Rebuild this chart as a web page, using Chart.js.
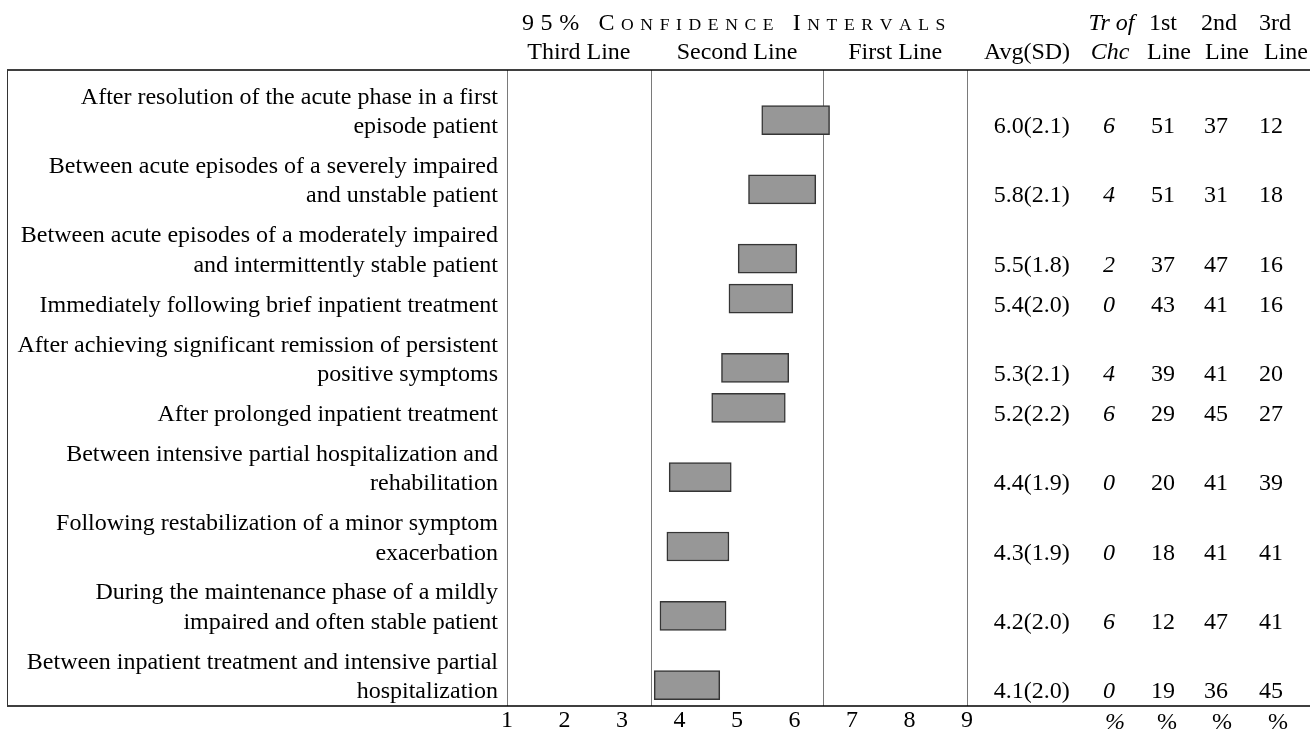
<!DOCTYPE html>
<html>
<head>
<meta charset="utf-8">
<script src="https://cdn.jsdelivr.net/npm/chart.js@4/dist/chart.umd.min.js"></script>
<style>
  html, body { margin: 0; padding: 0; background: #fff; }
  #wrap { width: 1310px; height: 730px; position: relative; }
</style>
</head>
<body>
<div id="wrap"><canvas id="chart" width="1310" height="730"></canvas></div>
<script>
// Clinical situations (each entry is the wrapped label, one string per line)
const situations = [
  ['After resolution of the acute phase in a first', 'episode patient'],
  ['Between acute episodes of a severely impaired', 'and unstable patient'],
  ['Between acute episodes of a moderately impaired', 'and intermittently stable patient'],
  ['Immediately following brief inpatient treatment'],
  ['After achieving significant remission of persistent', 'positive symptoms'],
  ['After prolonged inpatient treatment'],
  ['Between intensive partial hospitalization and', 'rehabilitation'],
  ['Following restabilization of a minor symptom', 'exacerbation'],
  ['During the maintenance phase of a mildly', 'impaired and often stable patient'],
  ['Between inpatient treatment and intensive partial', 'hospitalization']
];

// 95% confidence interval bounds on the 1-9 rating scale
const ciLow  = [5.43, 5.20, 5.02, 4.86, 4.73, 4.56, 3.82, 3.78, 3.66, 3.56];
const ciHigh = [6.61, 6.37, 6.04, 5.97, 5.90, 5.84, 4.90, 4.86, 4.81, 4.70];

// Table columns
const avg        = [6.0, 5.8, 5.5, 5.4, 5.3, 5.2, 4.4, 4.3, 4.2, 4.1];
const sd         = [2.1, 2.1, 1.8, 2.0, 2.1, 2.2, 1.9, 1.9, 2.0, 2.0];
const trOfChc    = [6, 4, 2, 0, 4, 6, 0, 0, 6, 0];
const firstLine  = [51, 51, 37, 43, 39, 29, 20, 18, 12, 19];
const secondLine = [37, 31, 47, 41, 41, 45, 41, 41, 47, 36];
const thirdLine  = [12, 18, 16, 16, 20, 27, 39, 41, 41, 45];

// Rating scale and the zones that split it
const scaleMin = 1, scaleMax = 9;
const zoneBreaks = [3.5, 6.5];
const zoneNames = ['Third Line', 'Second Line', 'First Line'];
const titleText = '95% Confidence Intervals';

// ---- layout ----
const FONT = "'Liberation Serif', 'Times New Roman', serif";
const LINE_H = 29.35;   // text line pitch inside a row
const ROW_PAD = 10.6;   // extra space per row
const FRAME_H = 636;    // height of the framed table body in y-units

let acc = 0;
const rowBottom = situations.map(lines => (acc += ROW_PAD + lines.length * LINE_H));
const barPos = rowBottom.map(b => b - 19.2);
const baselinePos = rowBottom.map(b => b - 6.2);

const tablePlugin = {
  id: 'tablePlugin',
  beforeDatasetsDraw(chart) {
    const { ctx, chartArea: ca, scales: { x } } = chart;
    ctx.save();
    // scale edges and zone dividers
    ctx.strokeStyle = '#7a7a7a';
    ctx.lineWidth = 1;
    [scaleMin, ...zoneBreaks, scaleMax].forEach(v => {
      const px = Math.round(x.getPixelForValue(v)) + 0.5;
      ctx.beginPath(); ctx.moveTo(px, ca.top); ctx.lineTo(px, ca.bottom); ctx.stroke();
    });
    ctx.restore();
  },
  afterDraw(chart) {
    const { ctx, chartArea: ca, scales: { x, y } } = chart;
    ctx.save();
    ctx.fillStyle = '#000';
    ctx.textBaseline = 'alphabetic';

    // frame
    ctx.strokeStyle = '#000';
    ctx.lineWidth = 1.5;
    ctx.beginPath();
    ctx.moveTo(7, ca.top); ctx.lineTo(chart.width, ca.top);
    ctx.moveTo(7, ca.bottom); ctx.lineTo(chart.width, ca.bottom);
    ctx.stroke();
    ctx.lineWidth = 1;
    ctx.strokeStyle = '#333';
    ctx.beginPath(); ctx.moveTo(7.5, ca.top); ctx.lineTo(7.5, ca.bottom); ctx.stroke();

    // title in spaced small caps
    const big = 24, small = 17.6, spacing = 6.6;
    const glyphs = [...titleText].map(c => {
      const isSmall = c !== c.toUpperCase();
      const size = isSmall ? small : big;
      ctx.font = size + 'px ' + FONT;
      const ch = c.toUpperCase();
      return { ch, size, w: ctx.measureText(ch).width };
    });
    const total = glyphs.reduce((s, g) => s + g.w + spacing, 0);
    let tx = (ca.left + ca.right) / 2 - total / 2;
    glyphs.forEach(g => {
      ctx.font = g.size + 'px ' + FONT;
      ctx.textAlign = 'left';
      ctx.fillText(g.ch, tx, 30);
      tx += g.w + spacing;
    });

    // zone captions
    ctx.font = '24px ' + FONT;
    ctx.textAlign = 'center';
    const edges = [scaleMin, ...zoneBreaks, scaleMax];
    zoneNames.forEach((name, i) => {
      const cx = (x.getPixelForValue(edges[i]) + x.getPixelForValue(edges[i + 1])) / 2;
      ctx.fillText(name, cx, 59.3);
    });

    // column headers
    const hdr = (t, cx, by, italic) => {
      ctx.font = (italic ? 'italic ' : '') + '24px ' + FONT;
      ctx.textAlign = 'center';
      ctx.fillText(t, cx, by);
    };
    hdr('Tr of', 1111.5, 30, true);
    hdr('1st', 1163, 30);
    hdr('2nd', 1219, 30);
    hdr('3rd', 1275, 30);
    hdr('Avg(SD)', 1027, 59.3);
    hdr('Chc', 1110, 59.3, true);
    hdr('Line', 1169, 59.3);
    hdr('Line', 1227, 59.3);
    hdr('Line', 1286, 59.3);

    // row labels and table values
    situations.forEach((lines, i) => {
      const lastBase = baselinePos[i];
      ctx.font = '24px ' + FONT;
      ctx.textAlign = 'right';
      lines.forEach((t, k) => {
        const by = y.getPixelForValue(lastBase - (lines.length - 1 - k) * LINE_H);
        ctx.fillText(t, 498, by);
      });
      const by = y.getPixelForValue(lastBase);
      ctx.textAlign = 'center';
      ctx.fillText(avg[i].toFixed(1) + '(' + sd[i].toFixed(1) + ')', 1031.7, by);
      ctx.fillText(String(firstLine[i]), 1163, by);
      ctx.fillText(String(secondLine[i]), 1216, by);
      ctx.fillText(String(thirdLine[i]), 1271, by);
      ctx.font = 'italic 24px ' + FONT;
      ctx.fillText(String(trOfChc[i]), 1109, by);
    });

    // unit row under the table
    hdr('%', 1115, 729, true);
    hdr('%', 1167, 729);
    hdr('%', 1222, 729);
    hdr('%', 1278, 729);
    ctx.restore();
  }
};

new Chart(document.getElementById('chart'), {
  type: 'bar',
  data: {
    datasets: [{
      data: situations.map((_, i) => ({ x: [ciLow[i], ciHigh[i]], y: barPos[i] })),
      backgroundColor: '#979797',
      borderColor: '#353535',
      borderWidth: 1.5,
      borderSkipped: false,
      barThickness: 29
    }]
  },
  options: {
    indexAxis: 'y',
    responsive: false,
    animation: false,
    devicePixelRatio: 1,
    layout: { padding: { left: 507, right: 343, top: 70, bottom: 0 } },
    plugins: { legend: { display: false }, tooltip: { enabled: false } },
    scales: {
      x: {
        type: 'linear',
        min: scaleMin,
        max: scaleMax,
        afterFit(scale) { scale.height = 24; },
        ticks: {
          stepSize: 1,
          color: '#000',
          padding: 5.8,
          font: { family: FONT, size: 24, lineHeight: 0.76 }
        },
        grid: { display: false, drawTicks: false },
        border: { display: false }
      },
      y: { type: 'linear', min: 0, max: FRAME_H, reverse: true, offset: false, display: false }
    }
  },
  plugins: [tablePlugin]
});
</script>
</body>
</html>
